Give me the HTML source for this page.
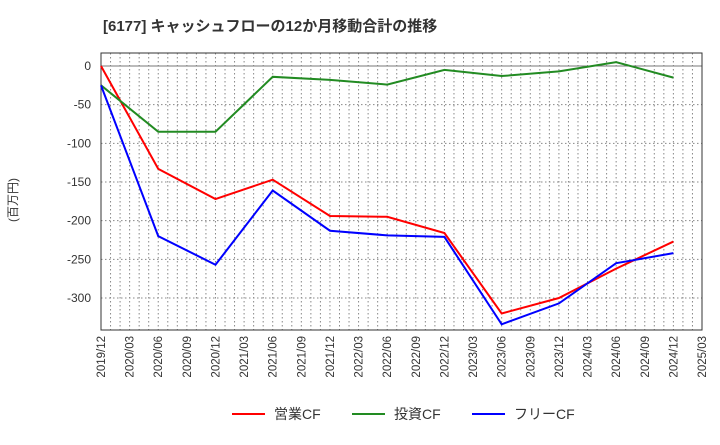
<!DOCTYPE html>
<html><head><meta charset="utf-8"><style>
body{margin:0;background:#fff;font-family:"Liberation Sans","Noto Sans CJK JP",sans-serif;}
</style></head><body>
<svg width="720" height="440" xmlns="http://www.w3.org/2000/svg" font-family="Liberation Sans, Noto Sans CJK JP, sans-serif">
<text x="103" y="31" font-size="15" font-weight="bold" fill="#333">[6177]  キャッシュフローの12か月移動合計の推移</text>
<text transform="translate(17,200) rotate(-90)" font-size="12" fill="#333" text-anchor="middle">(百万円)</text>
<g id="grid"></g>
<g id="axes"></g>
<g id="series"></g>
<g font-size="14" fill="#333">
<line x1="232" y1="414" x2="265" y2="414" stroke="#ff0000" stroke-width="2"/><text x="274" y="419">営業CF</text>
<line x1="352" y1="414" x2="385" y2="414" stroke="#228b22" stroke-width="2"/><text x="394" y="419">投資CF</text>
<line x1="472" y1="414" x2="505" y2="414" stroke="#0000ff" stroke-width="2"/><text x="514" y="419">フリーCF</text>
</g>
</svg>
<script>
const xLabels=["2019/12","2020/03","2020/06","2020/09","2020/12","2021/03","2021/06","2021/09","2021/12","2022/03","2022/06","2022/09","2022/12","2023/03","2023/06","2023/09","2023/12","2024/03","2024/06","2024/09","2024/12","2025/03"];
const yTicks=[0,-50,-100,-150,-200,-250,-300];
const pointIdx=[0,2,4,6,8,10,12,14,16,18,20];
const operatingCF=[0,-133,-172,-147,-194,-195,-216,-320,-300,-262,-227];
const investingCF=[-25,-85,-85,-14,-18,-24,-5,-13,-7,5,-15];
const freeCF=[-25,-220,-257,-161,-213,-219,-221,-334,-307,-255,-242];
const L=101,R=702,T=53,B=330;
const x=i=>L+(R-L)*i/21;
const y=v=>66+(0-v)*(298-66)/300;
const NS="http://www.w3.org/2000/svg";
function mk(tag,attrs,parent,txt){const e=document.createElementNS(NS,tag);for(const k in attrs)e.setAttribute(k,attrs[k]);if(txt!==undefined)e.textContent=txt;parent.appendChild(e);return e;}
const grid=document.getElementById('grid'),axes=document.getElementById('axes'),series=document.getElementById('series');
for(let m=1;m<63;m++){const xx=L+(R-L)*m/63;const l=mk('line',{x1:xx,x2:xx,y1:T,y2:B,stroke:'#888','stroke-dasharray':'1.5,2.5','stroke-width':1},grid);

}
yTicks.forEach(v=>{const l=mk('line',{x1:L,x2:R,y1:y(v),y2:y(v),stroke:v===0?'#777':'#888','stroke-dasharray':v===0?'none':'1.5,2.5','stroke-width':1},grid);


const t=mk('text',{x:L-10,y:y(v)+4,'font-size':12,fill:'#333','text-anchor':'end'},axes,String(v));

});
const fr=mk('rect',{x:L,y:T,width:R-L,height:B-T,fill:'none',stroke:'#333','stroke-width':1},axes);


xLabels.forEach((s,i)=>{const t=mk('text',{transform:`translate(${x(i)+4},${B+6}) rotate(-90)`,'font-size':11.5,fill:'#333','text-anchor':'end'},axes,s);

});
[[operatingCF,'#ff0000','operating-cf-line'],[investingCF,'#228b22','investing-cf-line'],[freeCF,'#0000ff','free-cf-line']].forEach(([d,c,n])=>{
const p=mk('polyline',{points:d.map((v,k)=>x(pointIdx[k])+','+y(v)).join(' '),fill:'none',stroke:c,'stroke-width':2},series);

});
</script>
</body></html>
